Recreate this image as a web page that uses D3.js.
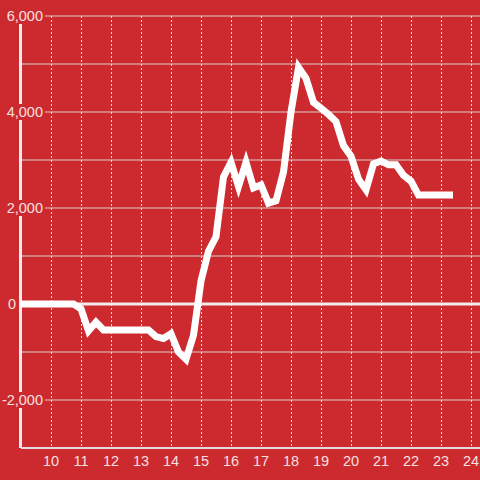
<!DOCTYPE html>
<html><head><meta charset="utf-8">
<script src="https://cdn.jsdelivr.net/npm/d3@7"></script>
<style>html,body{margin:0;padding:0;background:#cc2a2e;}svg{display:block}</style>
</head><body><svg id="c" width="480" height="480"></svg>
<script>
const hours = [9,9.25,9.5,9.75,10,10.25,10.5,10.75,11,11.25,11.5,11.75,12,12.25,12.5,12.75,13,13.25,13.5,13.75,14,14.25,14.5,14.75,15,15.25,15.5,15.75,16,16.25,16.5,16.75,17,17.25,17.5,17.75,18,18.25,18.5,18.75,19,19.25,19.5,19.75,20,20.25,20.5,20.75,21,21.25,21.5,21.75,22,22.25,22.5,22.75,23,23.25,23.4];
const values = [0,0,0,0,0,0,0,0,-100,-560,-380,-540,-540,-540,-540,-540,-540,-540,-680,-720,-620,-1000,-1150,-650,480,1100,1400,2650,2950,2450,2950,2420,2480,2100,2150,2750,4000,4930,4700,4200,4080,3950,3800,3300,3080,2600,2380,2920,2980,2900,2900,2680,2560,2270,2270,2270,2270,2270,2270];
const yTicks = [-3000,-2000,-1000,0,1000,2000,3000,4000,5000,6000];
const yLabels = [-2000,0,2000,4000,6000];
const xTicks = [10,11,12,13,14,15,16,17,18,19,20,21,22,23,24];

const W=480,H=480,bg="#cc2a2e",txt="#f6e0e0";
const svg=d3.select("#c");
svg.append("rect").attr("width",W).attr("height",H).attr("fill",bg);
const x=d3.scaleLinear().domain([9,24.3]).range([21,480]);
const y=d3.scaleLinear().domain([-3000,6000]).range([448,16]);

// horizontal grid
svg.append("g").selectAll("line").data(yTicks.filter(d=>d!==0&&d!==-3000)).join("line")
  .attr("x1",x(9)).attr("x2",W).attr("y1",d=>y(d)).attr("y2",d=>y(d))
  .attr("stroke","#d2cfd0").attr("stroke-width",1.2);
// vertical dotted grid
svg.append("g").selectAll("line").data(xTicks).join("line")
  .attr("x1",d=>Math.round(x(d))+0.5).attr("x2",d=>Math.round(x(d))+0.5).attr("y1",y(6000)).attr("y2",y(-3000))
  .attr("stroke","#e6dede").attr("stroke-width",1).attr("stroke-dasharray","2,2");
// bottom axis line
svg.append("line").attr("x1",x(9)).attr("x2",W).attr("y1",y(-3000)).attr("y2",y(-3000))
  .attr("stroke","#e0dcdc").attr("stroke-width",2);
// zero line
svg.append("line").attr("x1",x(9)).attr("x2",W).attr("y1",y(0)).attr("y2",y(0))
  .attr("stroke","#f3ecec").attr("stroke-width",3);
// y axis line
svg.append("line").attr("x1",20.5).attr("x2",20.5).attr("y1",y(6000)).attr("y2",y(-3000))
  .attr("stroke","#f3eeee").attr("stroke-width",3);

// y labels with background
const fmt=v=>d3.format(",")(v).replace("\u2212","-");
const lg=svg.append("g");
yLabels.forEach(v=>{
  const g=lg.append("g");
  const ex = v===0 ? 16 : 43;
  const t=g.append("text").attr("x",ex).attr("y",y(v)).attr("dy","0.36em")
    .attr("text-anchor","end").attr("font-family","'Liberation Sans',Arial,sans-serif")
    .attr("font-size",14.5).attr("fill",txt).text(fmt(v));
  const b=t.node().getBBox();
  const right = v===0 ? b.x+b.width+1 : 45;
  g.insert("rect","text").attr("x",b.x-2).attr("y",y(v)-8).attr("width",right-(b.x-2)).attr("height",16).attr("fill",bg);
});
// x labels
svg.append("g").selectAll("text").data(xTicks).join("text")
  .attr("x",d=>x(d)).attr("y",466).attr("text-anchor","middle")
  .attr("font-family","'Liberation Sans',Arial,sans-serif").attr("font-size",14.5).attr("fill",txt).text(d=>d);

// data line
const pts=hours.map((h,i)=>[h,values[i]]);
svg.append("path").datum(pts)
  .attr("d",d3.line().x(d=>x(d[0])).y(d=>y(d[1])))
  .attr("fill","none").attr("stroke","#ffffff").attr("stroke-width",7)
  .attr("stroke-linejoin","miter").attr("stroke-linecap","butt");
</script></body></html>
